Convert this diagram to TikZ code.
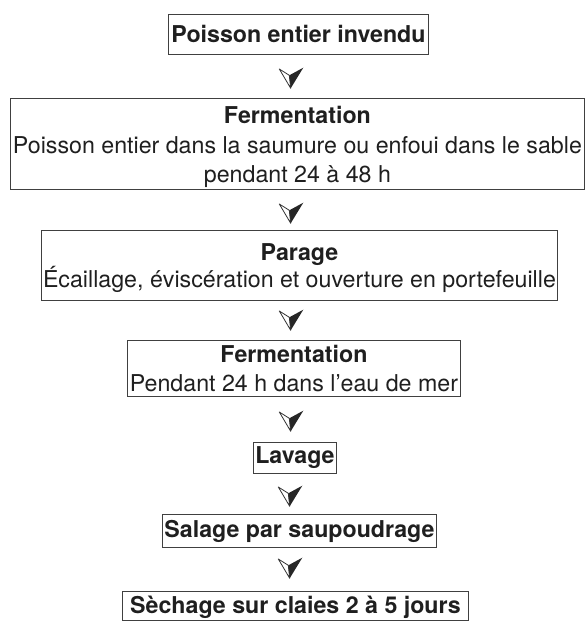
\documentclass[tikz,border=0pt]{standalone}
\usepackage{fontspec}
\setmainfont{TeX Gyre Heros}
\newcommand\boxfont{\fontsize{23.2}{28.5}\selectfont}
\begin{document}
\begin{tikzpicture}[x=1pt,y=1pt,
  flowbox/.style={draw=black!75, line width=0.9pt, inner sep=0pt, align=center,
    anchor=north west, font=\boxfont, text=black!88},
  downarrow/.pic={
    \fill[black!85] (-1.7,-6.3) -- (12.3,1.3) -- (-0.3,-19.3) -- cycle;
    \draw[black!80, line width=0.8pt, line join=round] (-1.7,-6.3) -- (-11.7,0) -- (-0.3,-19.3) -- cycle;
  }]
\useasboundingbox[fill=white] (0,0) rectangle (586,-621);
\node[flowbox, minimum width=260, minimum height=40] (b1) at (168,-14) {\bfseries Poisson entier invendu};
\node[flowbox, minimum width=574, minimum height=91, font=\fontsize{23.2}{29.5}\selectfont] (b2) at (10,-98)
  {\rule{0pt}{24pt}\bfseries Fermentation\\Poisson entier dans la saumure ou enfoui dans le sable\\pendant 24 à 48 h};
\node[flowbox, minimum width=516, minimum height=70, font=\fontsize{23.2}{27}\selectfont] (b3) at (41,-230)
  {\rule{0pt}{22pt}\bfseries Parage\\Écaillage, éviscération et ouverture en portefeuille};
\node[flowbox, minimum width=333, minimum height=56] (b4) at (127,-340)
  {\bfseries Fermentation\\Pendant 24 h dans l’eau de mer};
\node[flowbox, minimum width=83, minimum height=31] (b5) at (253,-442) {\bfseries Lavage};
\node[flowbox, minimum width=274, minimum height=33] (b6) at (162,-514) {\bfseries Salage par saupoudrage};
\node[flowbox, minimum width=346, minimum height=29, text height=18pt, text depth=3pt] (b7) at (122,-591) {\bfseries Sèchage sur claies 2 à 5 jours};
\coordinate (a1) at (291,-69);
\coordinate (a2) at (291,-204);
\coordinate (a3) at (291,-311);
\coordinate (a4) at (291,-412);
\coordinate (a5) at (290,-487);
\coordinate (a6) at (290,-559);
\foreach \a in {a1,a2,a3,a4,a5,a6} \pic at (\a) {downarrow};
\end{tikzpicture}
\end{document}
